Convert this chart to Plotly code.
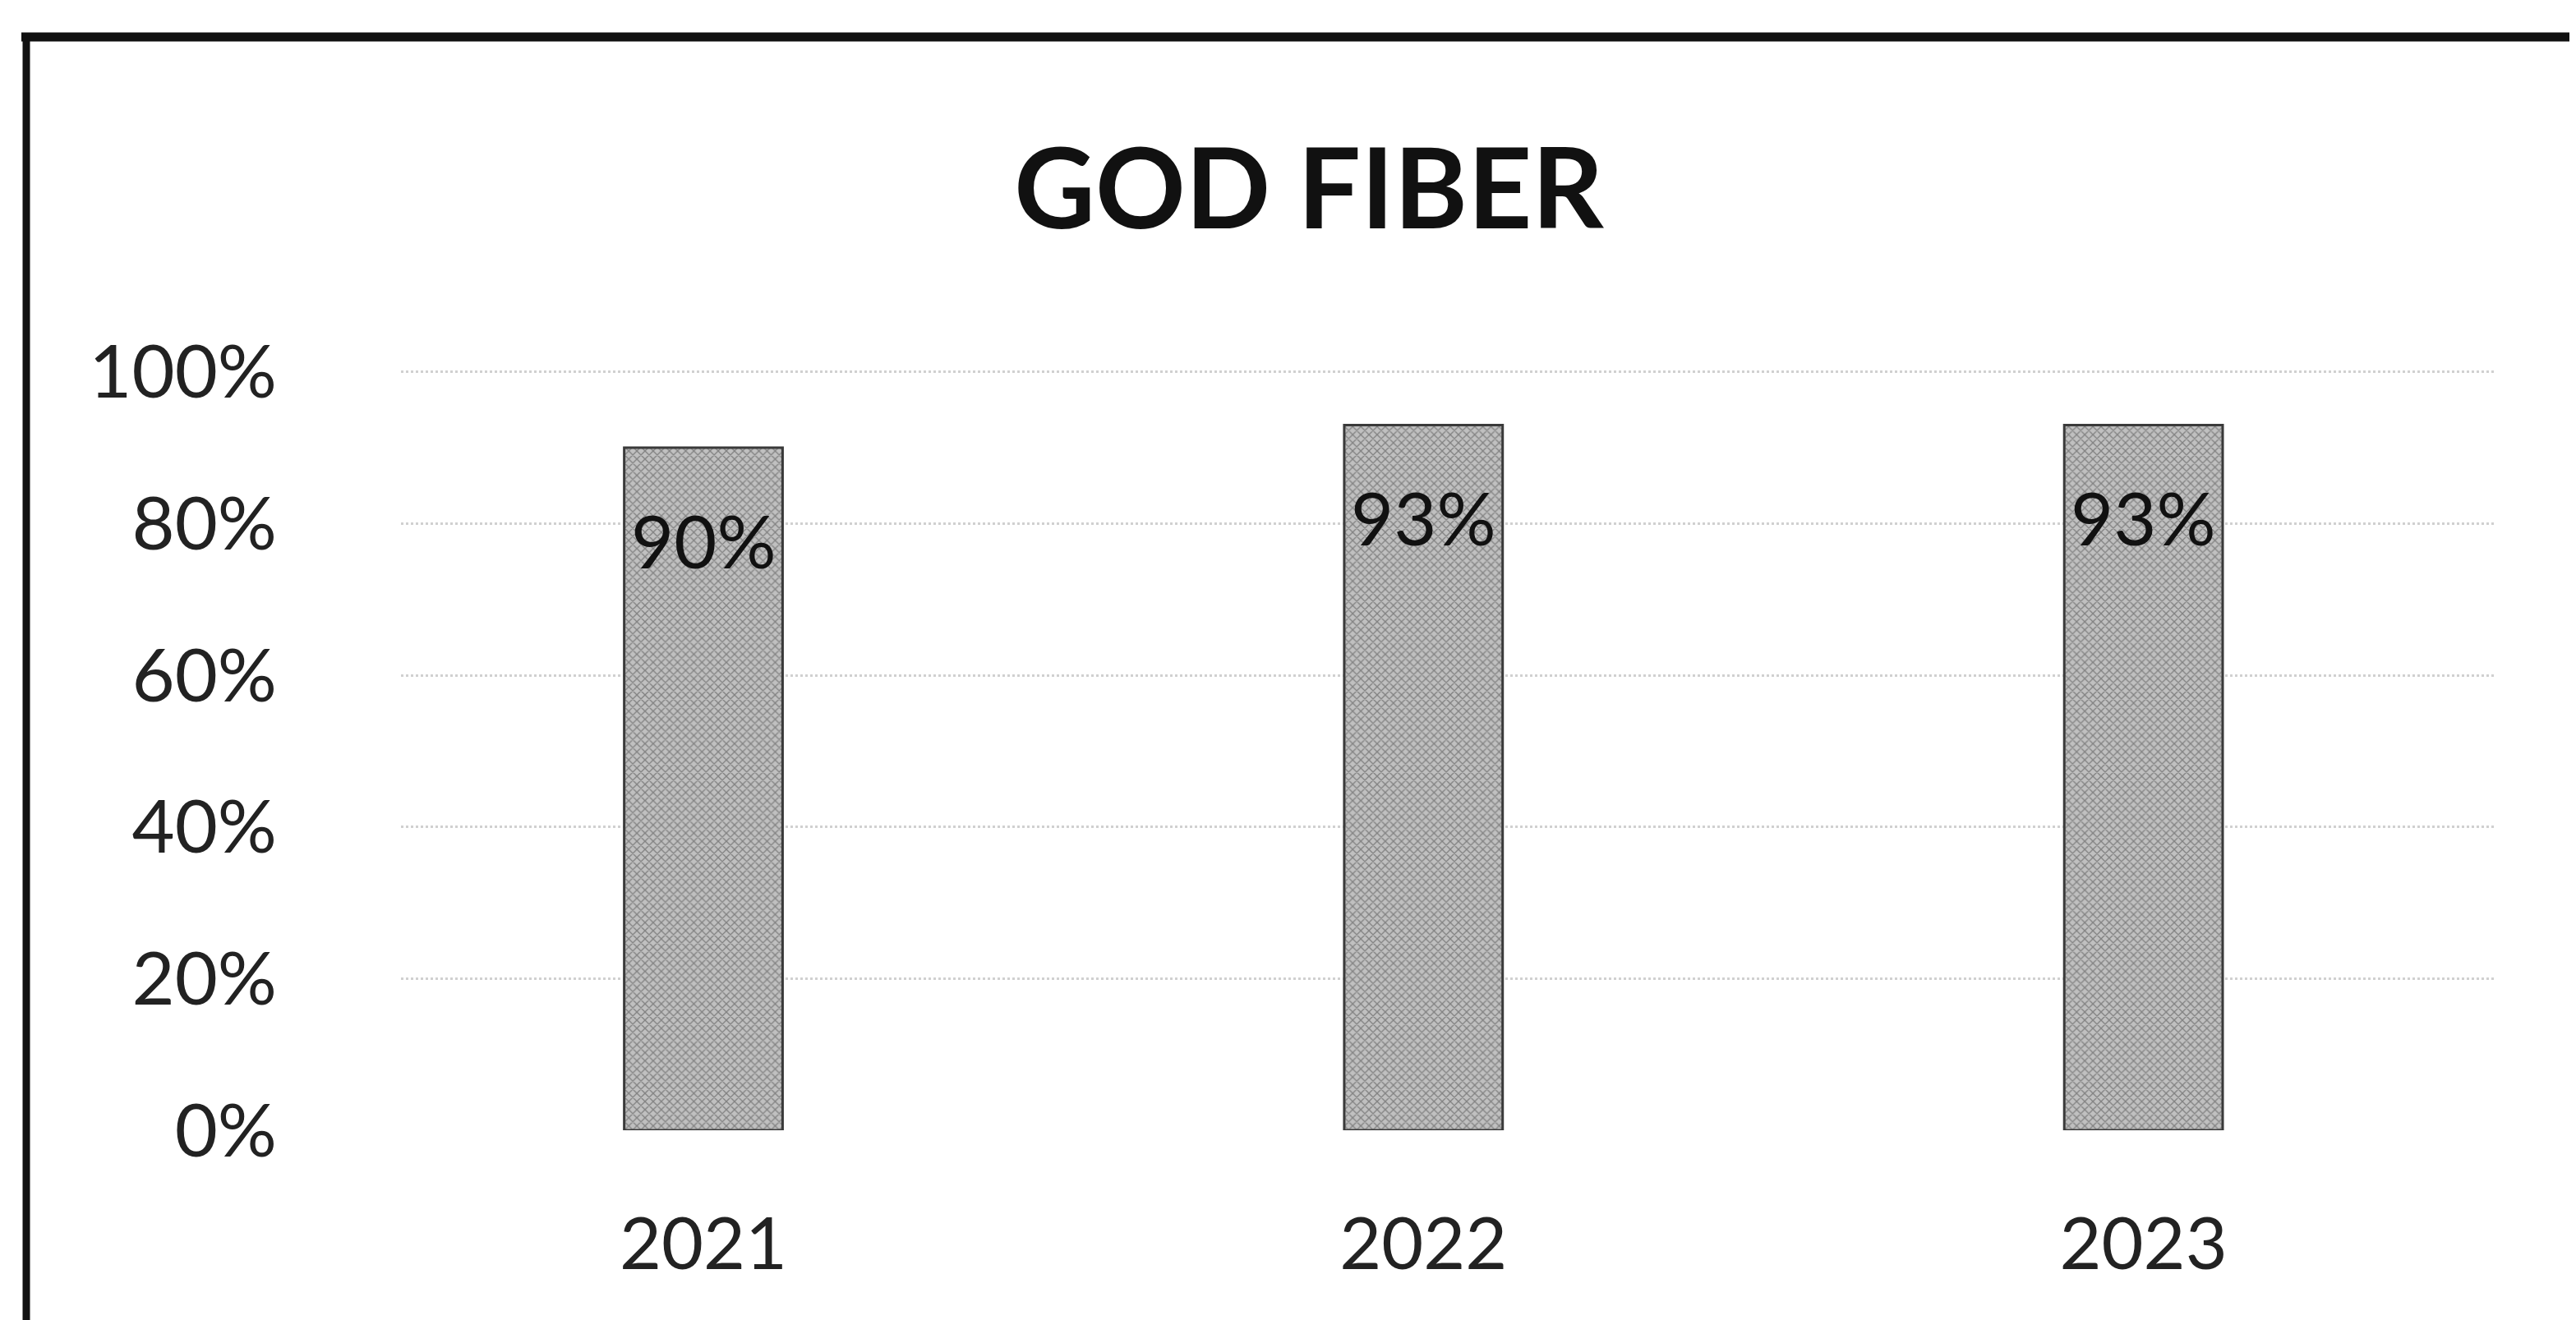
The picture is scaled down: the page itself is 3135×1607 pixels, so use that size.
import plotly.graph_objects as go

years = ["2021", "2022", "2023"]
values = [0.90, 0.93, 0.93]
labels = ["90%", "93%", "93%"]
title_text = "GOD FIBER"
tick_vals = [0, 0.2, 0.4, 0.6, 0.8, 1.0]
tick_text = ["0%", "20%", "40%", "60%", "80%", "100%"]

W, H = 3135, 1607
L, R, T, B = 480, 105, 442, 239

fig = go.Figure()
fig.add_trace(go.Bar(
    x=years, y=values,
    marker=dict(
        color="#b0b0b0",
        line=dict(color="#3a3a3a", width=3),
        pattern=dict(shape="x", fgcolor="#444444", bgcolor="#c0c0c0", size=7, solidity=0.35),
    ),
    hoverinfo="skip",
))

for i, (v, lab) in enumerate(zip(values, labels)):
    fig.add_annotation(x=i, y=v, xref="x", yref="y", text=lab, showarrow=False, yshift=-112,
                       font=dict(family="Lato", size=90, color="#111111"))

pw = W - L - R
ph = H - T - B
def px(x):
    return (x - L) / pw
def py(y):
    return (H - B - y) / ph

# frame lines
fig.add_shape(type="line", xref="paper", yref="paper", x0=px(18), x1=px(3135), y0=py(37), y1=py(37),
              line=dict(color="#111111", width=11))
fig.add_shape(type="line", xref="paper", yref="paper", x0=px(24), x1=px(24), y0=py(32), y1=py(1607),
              line=dict(color="#111111", width=9))
fig.add_shape(type="line", xref="paper", yref="paper", x0=px(3131), x1=px(3131), y0=py(37), y1=py(1607),
              line=dict(color="#777777", width=3))

fig.update_layout(
    width=W, height=H,
    margin=dict(l=L, r=R, t=T, b=B),
    paper_bgcolor="white", plot_bgcolor="white",
    showlegend=False,
    bargap=0.78,
    title=dict(text="<b>" + title_text + "</b>", x=1585 / W, xanchor="center",
               y=1 - 222 / H, yanchor="middle",
               font=dict(family="Lato", size=136, color="#111111")),
    font=dict(family="Lato", color="#111111"),
)
fig.update_xaxes(
    type="category", range=[-0.42, 2.49], showgrid=False, showline=False, zeroline=False,
    ticks="", tickfont=dict(family="Lato", size=88, color="#222222"), ticklabelstandoff=80,
)
fig.update_yaxes(
    range=[0, 1.003], tickvals=tick_vals, ticktext=tick_text, showline=False, zeroline=False,
    showgrid=True, gridcolor="#d0d0d0", griddash="dot", gridwidth=3,
    ticks="", tickfont=dict(family="Lato", size=90, color="#222222"), ticklabelstandoff=150,
)

fig.write_html("out.html")
